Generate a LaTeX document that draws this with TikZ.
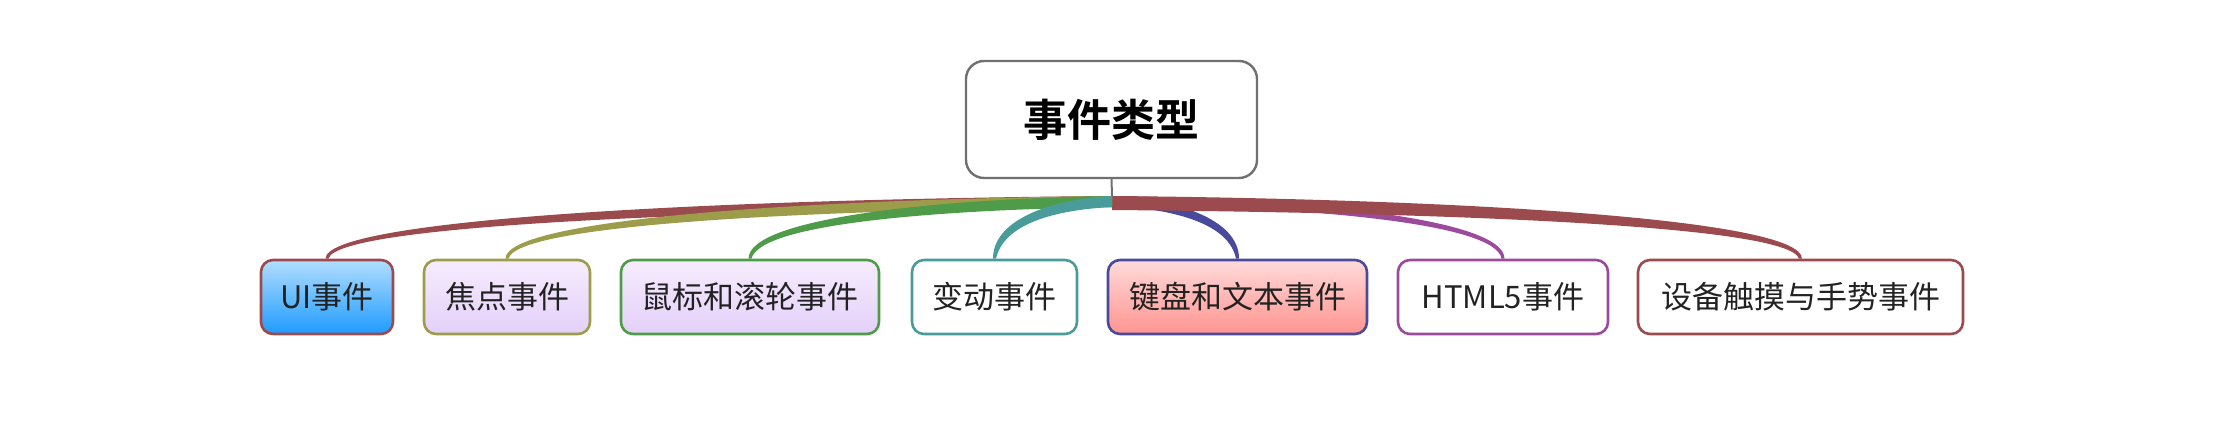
\documentclass[tikz,border=0pt]{standalone}
\usepackage{fontspec}
\setmainfont{Noto Sans CJK SC}[BoldFont={Noto Sans CJK SC Bold}]
\usetikzlibrary{calc}
\definecolor{cRed}{RGB}{155,74,78}
\definecolor{cOlive}{RGB}{156,156,74}
\definecolor{cGreen}{RGB}{78,156,74}
\definecolor{cTeal}{RGB}{74,156,154}
\definecolor{cBlue}{RGB}{74,74,156}
\definecolor{cPurple}{RGB}{156,74,156}
\definecolor{cGray}{RGB}{112,112,112}
\definecolor{blueTop}{RGB}{178,222,255}
\definecolor{blueBot}{RGB}{30,155,255}
\definecolor{lavTop}{RGB}{246,236,253}
\definecolor{lavBot}{RGB}{228,208,250}
\definecolor{pinkTop}{RGB}{255,218,218}
\definecolor{pinkBot}{RGB}{255,148,144}
\definecolor{txt}{RGB}{34,34,34}
\newcommand\branch[4]{%
  \path ($(hub)!0.5!(#2.north)$) coordinate (m);
  \fill[#1] (hub) .. controls ($(m |- hub)+(0,3)$) and ($(#2.north)+(1.5*#4,-40)$) .. ($(#2.north)+(1.5*#4,0)$)
    -- ($(#2.north)+(-1.5*#4,0)$) .. controls ($(#2.north)+(-1.5*#4-0.7*#3*#4,-40+0.5*#3)$) and ($(m |- hub)+(0,3+#3)$) .. ($(hub)+(0,#3)$) -- cycle;
}
\begin{document}
\begin{tikzpicture}[x=1pt,y=-1pt,
  child/.style={draw=#1,line width=2.6pt,rounded corners=12pt,minimum height=74pt,inner sep=0pt,
    font=\fontsize{31pt}{36pt}\selectfont,text=txt,fill=white},
  rootbox/.style={draw=cGray,line width=2.4pt,rounded corners=18pt,minimum width=291pt,minimum height=117pt,
    inner sep=0pt,fill=white,font=\fontsize{44pt}{50pt}\selectfont\bfseries,text=black}]
\useasboundingbox (0,0) rectangle (2224,426);
\node[rootbox] (root) at (1111.5,119.5) {事件类型};
\coordinate (hub) at (1112,196);
\node[child=cRed,minimum width=132pt,shading=axis,top color=blueTop,bottom color=blueBot] (ui) at (327,297) {UI事件};
\node[child=cOlive,minimum width=166pt,shading=axis,top color=lavTop,bottom color=lavBot] (focus) at (507,297) {焦点事件};
\node[child=cGreen,minimum width=258pt,shading=axis,top color=lavTop,bottom color=lavBot] (mouse) at (750,297) {鼠标和滚轮事件};
\node[child=cTeal,minimum width=165pt] (change) at (994.5,297) {变动事件};
\node[child=cBlue,minimum width=259pt,shading=axis,top color=pinkTop,bottom color=pinkBot] (key) at (1237.5,297) {键盘和文本事件};
\node[child=cPurple,minimum width=210pt] (html) at (1503,297) {HTML5事件};
\node[child=cRed,minimum width=325pt] (touch) at (1800.5,297) {设备触摸与手势事件};
\draw[cGray,line width=2pt] (root.south) -- (hub);
\branch{cPurple}{html}{8}{1}
\branch{cBlue}{key}{10}{1}
\branch{cRed}{touch}{14}{1}
\branch{cRed}{ui}{11}{-1}
\branch{cOlive}{focus}{11}{-1}
\branch{cGreen}{mouse}{11}{-1}
\branch{cTeal}{change}{11}{-1}
\end{tikzpicture}
\end{document}
